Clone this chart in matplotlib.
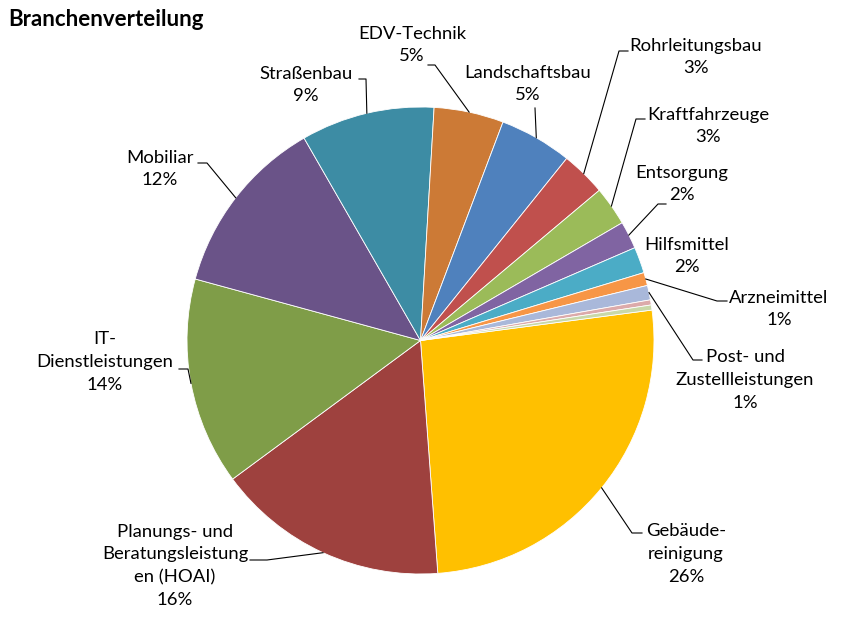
import numpy as np
import matplotlib.pyplot as plt

plt.rcParams['font.family'] = ['Lato', 'DejaVu Sans']

# data, clockwise from the 3 o'clock side
categories = ["Gebäude-\nreinigung", "Planungs- und\nBeratungsleistung\nen (HOAI)",
              "IT-\nDienstleistungen", "Mobiliar", "Straßenbau", "EDV-Technik",
              "Landschaftsbau", "Rohrleitungsbau", "Kraftfahrzeuge", "Entsorgung",
              "Hilfsmittel", "Arzneimittel", "Post- und\nZustellleistungen", "", ""]
values = [25.8, 16.0, 14.3, 12.4, 9.2, 4.8, 5.0, 3.1, 2.7, 1.9, 1.8, 0.9, 1.0, 0.35, 0.35]
colors = ["#FFC000", "#9E413E", "#7F9D48", "#6A5388", "#3D8CA4", "#CC7A36",
          "#4F81BD", "#C0504D", "#9BBB59", "#8064A2", "#4BACC6", "#F79646",
          "#A9B8DA", "#DCAAAA", "#C9D8A8"]

# label layout in pixels (y downwards): text centre, leader elbow, leader end
text_pos = [(686, 554), (175, 566), (105, 362), (160, 169), (306, 85), (412, 45),
            (528, 84), (696, 57), (708, 126), (682, 184), (687, 256), (779, 309),
            (745, 380), None, None]
elbows = [(632, 533), (267, 560), (188, 369), (207, 163), (366, 79), (435, 65),
          (535, 108), (619, 51), (636, 119), (658, 204), None, (717, 301),
          (693, 360), None, None]
ends = [642, 250, 179, 198, 359, 428, 535, 628, 645, 666, None, 727, 702, None, None]

W, H = 842, 633
cx, cy, r = 420.5, 340.5, 233.5

fig = plt.figure(figsize=(W / 100, H / 100), dpi=100)
ax = fig.add_axes([0, 0, 1, 1])

wedges, _ = ax.pie(values, colors=colors, startangle=7.5, counterclock=False,
                   center=(cx, H - cy), radius=r,
                   wedgeprops=dict(edgecolor='white', linewidth=0.6))
ax.set_xlim(0, W)
ax.set_ylim(0, H)
ax.set_aspect('equal')
ax.axis('off')

total = sum(values)
for i, w in enumerate(wedges):
    if text_pos[i] is None:
        continue
    pct = round(values[i] / total * 100)
    tx, ty = text_pos[i]
    ax.text(tx, H - ty, f"{categories[i]}\n{pct}%", ha='center', va='center',
            multialignment='center', fontsize=13.3, linespacing=1.53, color='black')
    if elbows[i] is not None:
        mid = np.deg2rad((w.theta1 + w.theta2) / 2)
        px, py = cx + r * np.cos(mid), H - cy + r * np.sin(mid)
        ex, ey = elbows[i]
        ax.plot([px, ex, ends[i]], [py, H - ey, H - ey], color='black', lw=0.8)

ax.text(8, H - 20, "Branchenverteilung", ha='left', va='center',
        fontsize=16, fontweight='bold')

fig.savefig('out.png', dpi=100)
